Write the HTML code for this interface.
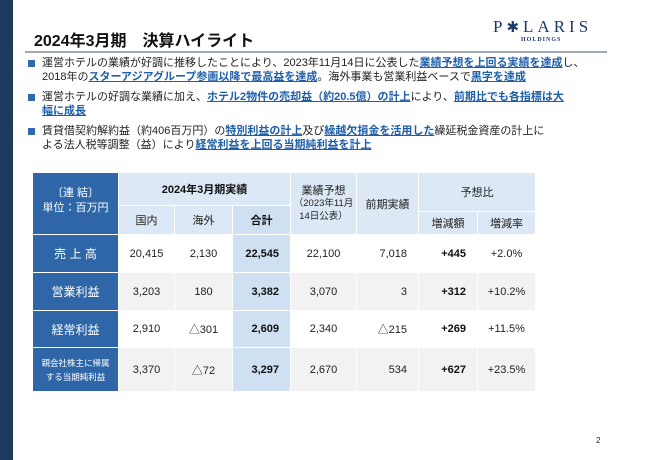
<!DOCTYPE html>
<html><head><meta charset="utf-8">
<style>
*{margin:0;padding:0;box-sizing:border-box}
body{width:650px;height:460px;background:#fff;position:relative;overflow:hidden;font-family:"Liberation Sans","Noto Sans CJK JP",sans-serif;color:#222}
.abs{position:absolute}
.bl{font-size:11px;line-height:14px;left:42px;white-space:nowrap}
.sq{position:absolute;left:-14px;top:4px;width:7px;height:7px;background:#2e6aad}
u{color:#1f5fa8;font-weight:bold;text-decoration:underline}
.c{position:absolute;display:flex;align-items:center;justify-content:center;font-size:11px;text-align:center;border-right:1px solid #fff;border-bottom:1px solid #fff}
.r{justify-content:flex-end;padding-right:11px}
</style></head><body>
<div class="abs" style="left:0;top:0;width:13px;height:460px;background:#1d3a5c"></div>
<div class="abs" style="left:34px;top:27px;font-size:16px;font-weight:bold;color:#111">2024年3月期　決算ハイライト</div>
<div class="abs" style="left:493px;top:17px;font-family:'Liberation Serif',serif;font-size:17px;letter-spacing:4px;color:#1d3a6c">P<span style="font-size:15px">✱</span>LARIS</div>
<div class="abs" style="left:521px;top:37px;font-family:'Liberation Serif',serif;font-size:6px;letter-spacing:1px;color:#1d3a6c;font-weight:bold">HOLDINGS</div>
<div class="abs" style="left:25px;top:51px;width:582px;height:2px;background:#a0a8b4"></div>

<div class="abs bl" style="top:56px"><span class="sq"></span>運営ホテルの業績が好調に推移したことにより、2023年11月14日に公表した<u>業績予想を上回る実績を達成</u>し、<br>2018年の<u>スターアジアグループ参画以降で最高益を達成</u>。海外事業も営業利益ベースで<u>黒字を達成</u></div>
<div class="abs bl" style="top:90px"><span class="sq"></span>運営ホテルの好調な業績に加え、<u>ホテル2物件の売却益（約20.5億）の計上</u>により、<u>前期比でも各指標は大<br>幅に成長</u></div>
<div class="abs bl" style="top:124px"><span class="sq"></span>賃貸借契約解約益（約406百万円）の<u>特別利益の計上</u>及び<u>繰越欠損金を活用した</u>繰延税金資産の計上に<br>よる法人税等調整（益）により<u>経常利益を上回る当期純利益を計上</u></div>

<div id="tbl"></div>
<div class="abs" style="left:596px;top:436px;font-size:8px">2</div>
<script>
const xs=[33,119,175,233,291,357,419,478,536];
const ys=[235,273,311,348,392];
const rowLabels=["売 上 高","営業利益","経常利益","親会社株主に帰属<br>する当期純利益"];
const values=[
["20,415","2,130","22,545","22,100","7,018","+445","+2.0%"],
["3,203","180","3,382","3,070","3","+312","+10.2%"],
["2,910","△301","2,609","2,340","△215","+269","+11.5%"],
["3,370","△72","3,297","2,670","534","+627","+23.5%"]];
const t=document.getElementById('tbl');
function cell(x,y,w,h,html,bg,color,extra,name){
 const d=document.createElement('div');
 d.className='c';
 
 
 d.style.cssText=`left:${x}px;top:${y}px;width:${w}px;height:${h}px;background:${bg};color:${color};`+(extra||'');
 d.innerHTML=html;t.appendChild(d);return d;}
const hb='#dce8f5',dk='#2e66a8',tot='#cfe0f3';
cell(33,173,86,62,'<div>〔連 結〕<br>単位：百万円</div>',dk,'#fff','line-height:15px;align-items:flex-start;padding-top:13px','header-unit');
cell(119,173,172,33,'<b>2024年3月期実績</b>',hb,'#111','','header-actual');
cell(119,206,56,29,'国内',hb,'#222','','header-domestic');
cell(175,206,58,29,'海外',hb,'#222','','header-overseas');
cell(233,206,58,29,'<b>合計</b>',tot,'#111','','header-total');
cell(291,173,66,62,'<div>業績予想<br><span style="font-size:9.5px">（2023年11月<br>14日公表）</span></div>',hb,'#222','line-height:12px;align-items:flex-start;padding-top:12px','header-forecast');
cell(357,173,62,62,'前期実績',hb,'#222','','header-prior');
cell(419,173,117,39,'予想比',hb,'#222','','header-vs-forecast');
cell(419,212,59,23,'増減額',hb,'#222','','header-change');
cell(478,212,58,23,'増減率',hb,'#222','','header-rate');
for(let i=0;i<4;i++){
 const y=ys[i],h=ys[i+1]-ys[i];
 const bg=i%2?'#f2f2f2':'#fff';
 cell(33,y,86,h,'<div>'+rowLabels[i]+'</div>',dk,'#fff',i==3?'font-size:8.5px;line-height:14px':'font-size:12px','row-label');
 for(let j=0;j<7;j++){
  const c=cell(xs[j+1],y,xs[j+2]-xs[j+1],h,values[i][j],j==2?tot:bg,'#222','','value-cell');
  if(j==2||j==5){c.style.fontWeight='bold';c.style.color='#111';c.classList.add('r');}
  if(j==4)c.classList.add('r');
 }
}
</script>
</body></html>
